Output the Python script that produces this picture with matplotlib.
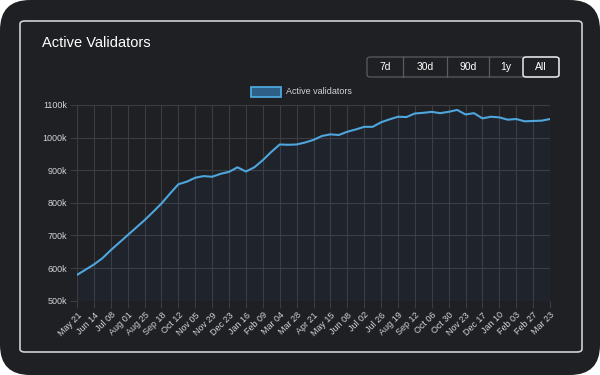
import matplotlib
matplotlib.use("Agg")
import matplotlib.pyplot as plt
from matplotlib.patches import FancyBboxPatch, Rectangle
import pandas as pd

# active validators (thousands), one reading every 12 days from 2023-05-21
start_date = "2023-05-21"
step_days = 12
validators_k = [
    579, 595, 611, 630, 655, 678, 701, 724, 747, 772,
    798, 828, 857, 865, 877, 882, 880, 889, 895, 909,
    896, 909, 931, 956, 979, 978, 979, 985, 993, 1005,
    1010, 1008, 1018, 1025, 1033, 1033, 1047, 1056, 1064, 1063,
    1074, 1076, 1079, 1075, 1079, 1085, 1071, 1075, 1059, 1064,
    1062, 1055, 1057, 1050, 1051, 1052, 1057,
]
y_ticks = [500, 600, 700, 800, 900, 1000, 1100]
buttons = ["7d", "30d", "90d", "1y", "All"]
title = "Active Validators"
series_name = "Active validators"

dates = pd.date_range(start_date, periods=len(validators_k), freq=f"{step_days}D")
tick_dates = dates[::2]

BG = "#1f2024"
GRID = "#3b3d43"
TXT = "#d2d3d6"
LINE = "#4ea6dc"

plt.rcParams['font.family'] = ['Liberation Sans', 'DejaVu Sans']

fig = plt.figure(figsize=(6, 3.75), dpi=100)
fig.patch.set_facecolor("white")

# outer dark panel with rounded corners (behind everything)
fig.patches.append(FancyBboxPatch((0, 0), 1, 1, boxstyle="round,pad=0,rounding_size=0.05",
                                  transform=fig.transFigure, facecolor=BG, edgecolor="none",
                                  mutation_aspect=1.6, zorder=-10))
# card border
fig.patches.append(FancyBboxPatch((20 / 600, 1 - 352 / 375), 562 / 600, 331 / 375,
                                  boxstyle="round,pad=0,rounding_size=0.008",
                                  transform=fig.transFigure, facecolor="none",
                                  edgecolor="#cfd0d2", linewidth=1.2, zorder=-5))

fig.text(42 / 600, 1 - 43 / 375, title, color="white", fontsize=10.5,
         va="center", ha="left")

# range buttons
edges = [367, 403, 447, 489, 523, 559]
by0, by1 = 57, 77
fig.patches.append(FancyBboxPatch((edges[0] / 600, 1 - by1 / 375), (edges[-1] - edges[0]) / 600,
                                  (by1 - by0) / 375, boxstyle="round,pad=0,rounding_size=0.006",
                                  transform=fig.transFigure, facecolor="none",
                                  edgecolor="#5a5c61", linewidth=0.9))
for i, lab in enumerate(buttons):
    x0, x1 = edges[i], edges[i + 1]
    if 0 < i < len(buttons) - 1:
        fig.lines.append(plt.Line2D([x0 / 600, x0 / 600], [1 - by1 / 375, 1 - by0 / 375],
                                    transform=fig.transFigure, color="#5a5c61", lw=0.9))
    if lab == "All":
        fig.patches.append(FancyBboxPatch((x0 / 600, 1 - by1 / 375), (x1 - x0) / 600,
                                          (by1 - by0) / 375,
                                          boxstyle="round,pad=0,rounding_size=0.006",
                                          transform=fig.transFigure, facecolor="none",
                                          edgecolor="#e8e8e8", linewidth=1.1))
    fig.text((x0 + x1) / 2 / 600, 1 - (by0 + by1) / 2 / 375, lab, color="white",
             fontsize=7.5, ha="center", va="center")

# legend
fig.patches.append(Rectangle((251 / 600, 1 - 96.5 / 375), 30 / 600, 9.5 / 375,
                             transform=fig.transFigure, facecolor="#2d5f87",
                             edgecolor=LINE, linewidth=1.3))
fig.text(286 / 600, 1 - 92 / 375, series_name, color=TXT, fontsize=6.5,
         ha="left", va="center")

ax = fig.add_axes([77 / 600, 1 - 300.7 / 375, 473 / 600, 195.7 / 375])
ax.set_facecolor("none")
ax.plot(dates, validators_k, color=LINE, lw=1.5, solid_joinstyle="round", zorder=3)
ax.fill_between(dates, validators_k, 500, color="#2a4f8a", alpha=0.08, lw=0, zorder=1)

ax.set_xlim(dates[0], dates[-1])
ax.set_ylim(500, 1100)
ax.set_yticks(y_ticks)
ax.set_yticklabels([f"{v}k" for v in y_ticks])
ax.set_xticks(tick_dates)
ax.set_xticklabels([d.strftime("%b %d") for d in tick_dates], rotation=45,
                   ha="right", rotation_mode="anchor")
ax.grid(True, color=GRID, lw=0.8, zorder=0)
ax.set_axisbelow(True)
ax.tick_params(colors=GRID, labelcolor=TXT, labelsize=6.5, length=5, width=0.8, pad=2)
for s in ax.spines.values():
    s.set_visible(False)

fig.savefig("out.png", dpi=100, facecolor=fig.get_facecolor())
